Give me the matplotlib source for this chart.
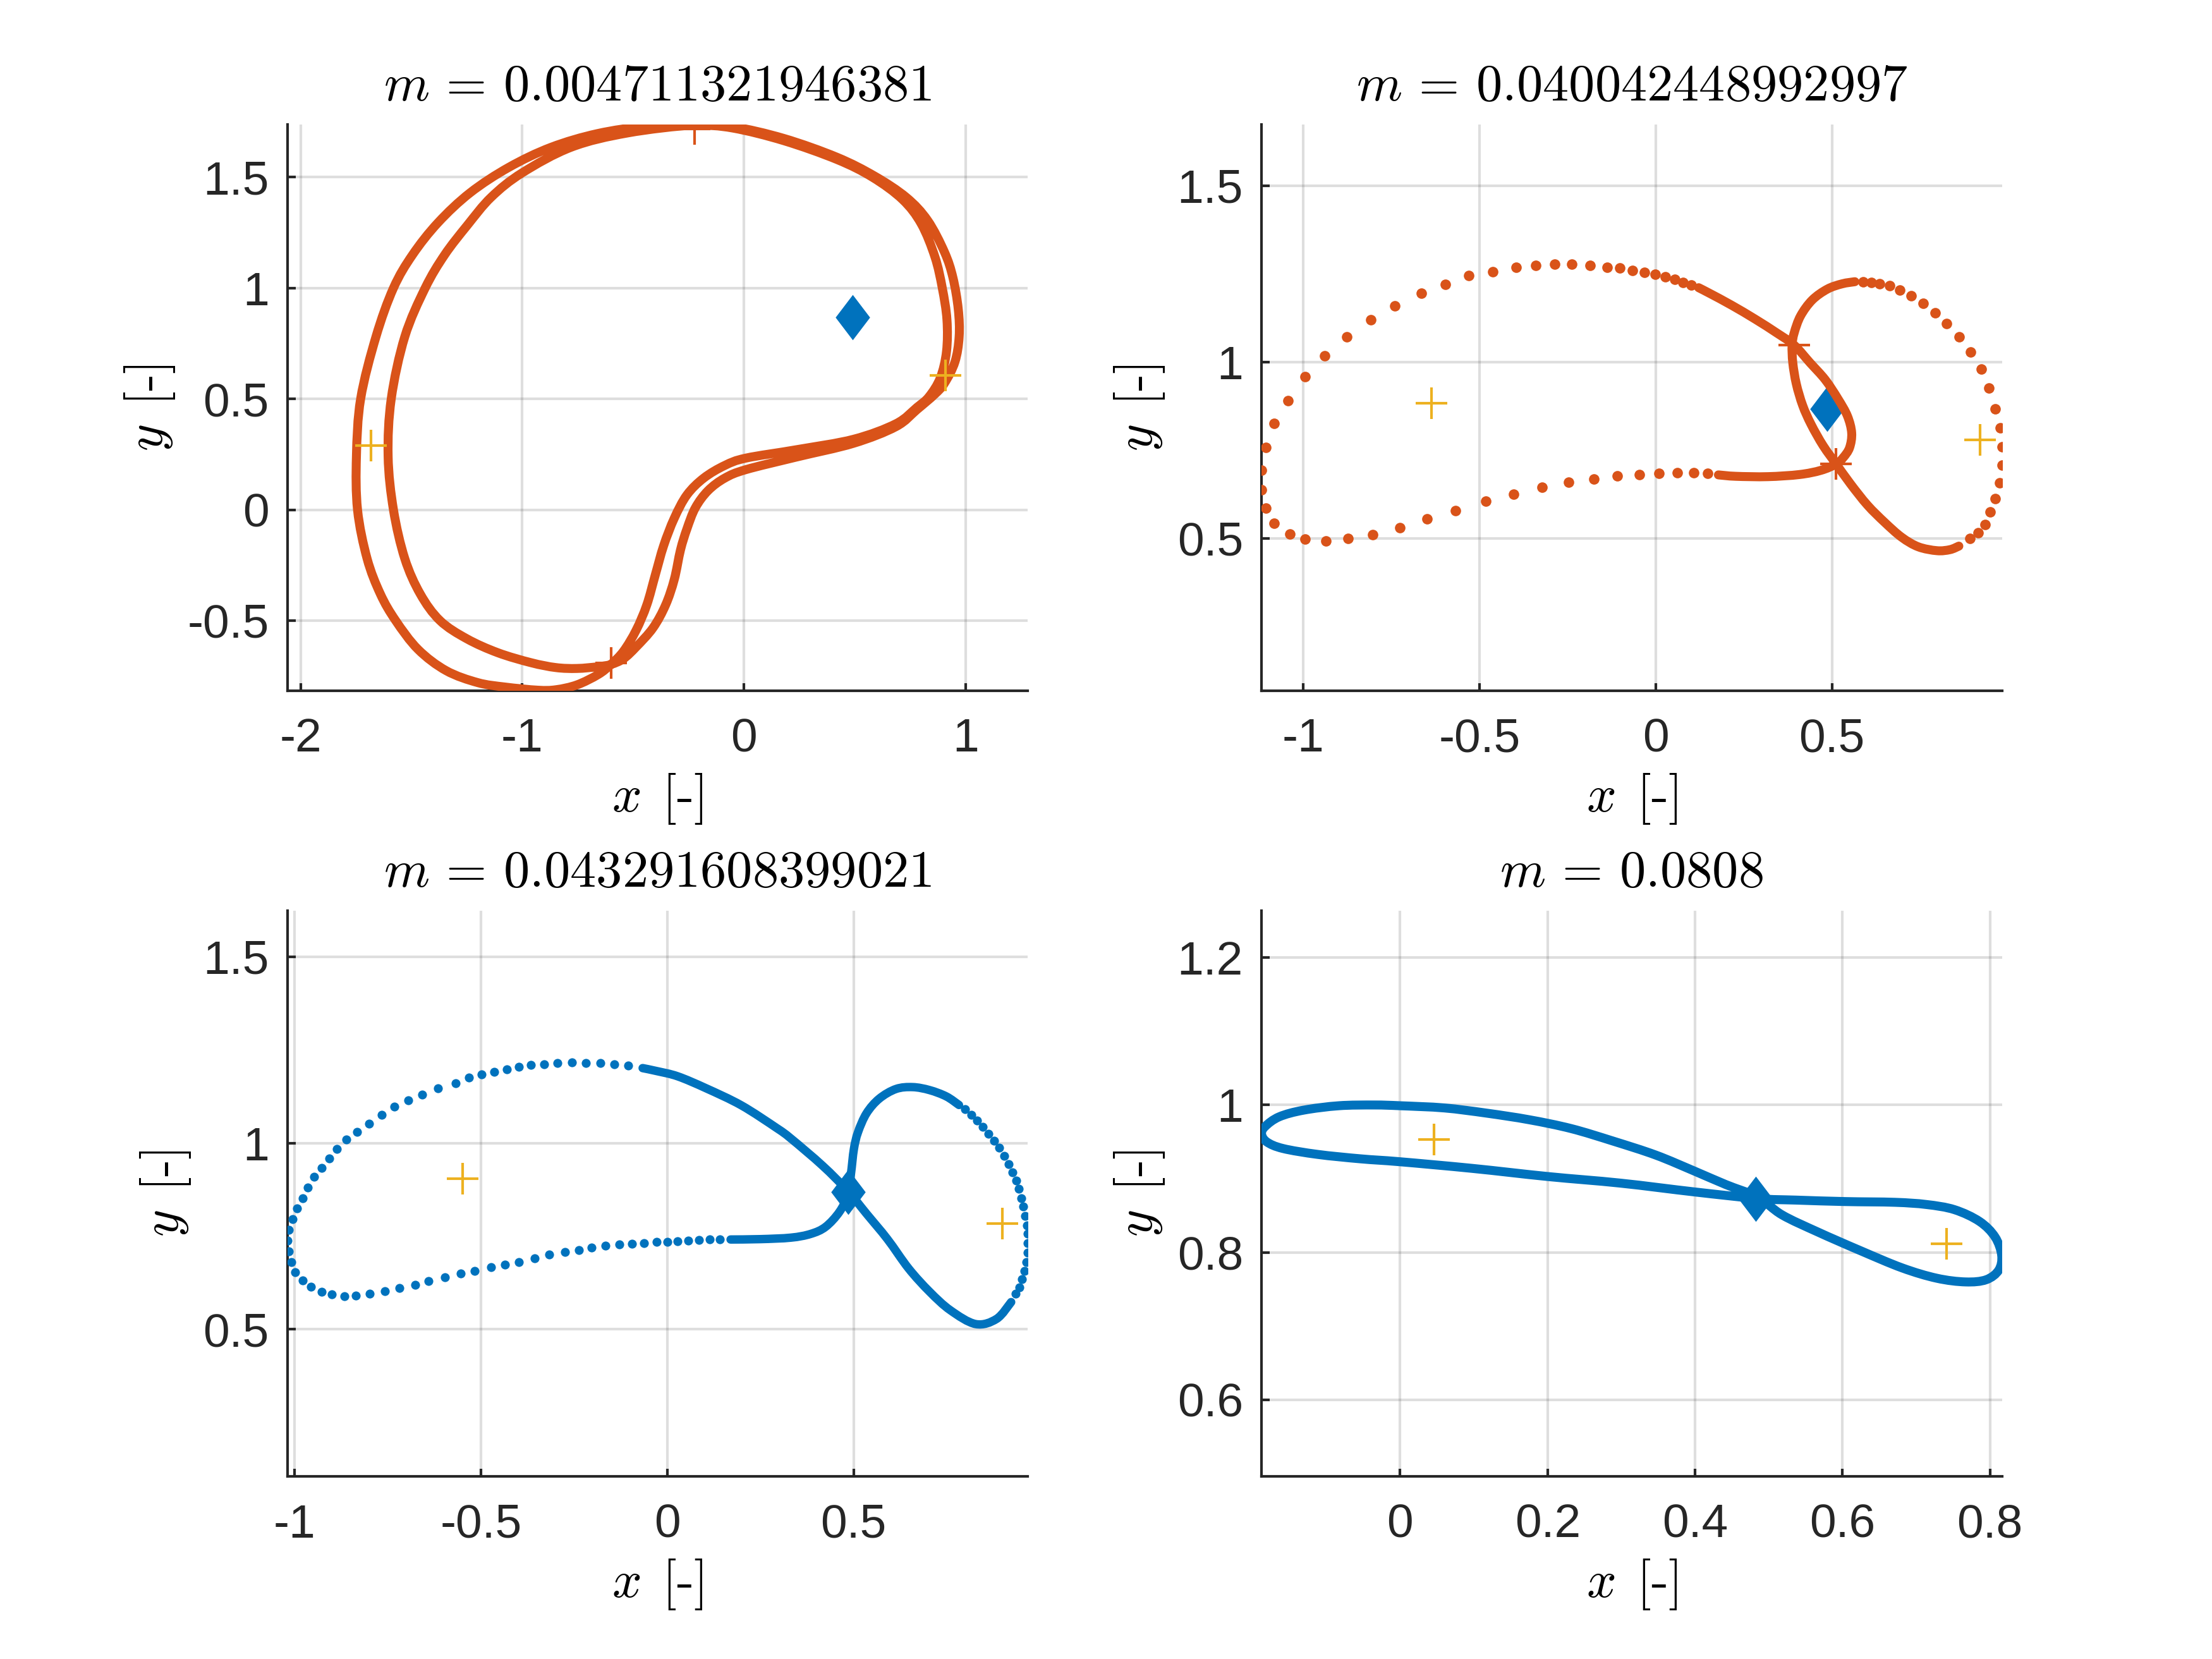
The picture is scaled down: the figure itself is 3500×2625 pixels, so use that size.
import numpy as np
import matplotlib
matplotlib.use("Agg")
import matplotlib.pyplot as plt
from matplotlib.path import Path
from matplotlib.patches import PathPatch
from matplotlib.ticker import MultipleLocator, FuncFormatter

nan = np.nan

ORANGE = "#D95319"
BLUE = "#0072BD"
YELLOW = "#EDB120"
AXCOL = "#262626"

titles = [r"$m\,=\,0.004711321946381$", r"$m\,=\,0.040042448992997$",
          r"$m\,=\,0.043291608399021$", r"$m\,=\,0.0808$"]

# ---- panel 1: two revolutions, drawn as continuous lines (NaN separates them)
p1_line_x = [-0.222, -0.440, -0.660, -0.870, -1.060, -1.235, -1.380, -1.495, -1.581, -1.660,
             -1.729, -1.748, -1.743, -1.700, -1.640, -1.571, -1.470, -1.343, -1.200, -1.076,
             -0.930, -0.848, -0.753, -0.657, -0.600, -0.543, -0.486, -0.438, -0.400, -0.362,
             -0.314, -0.257, -0.181, -0.086, 0.009, 0.238, 0.495, 0.686, 0.781, 0.835,
             0.886, 0.914, 0.916, 0.895, 0.862, 0.800, 0.715, 0.580, 0.420, 0.180,
             -0.050, -0.222, nan,
             -0.222, -0.524, -0.778, -1.000, -1.140, -1.248, -1.350, -1.438, -1.530, -1.591,
             -1.605, -1.581, -1.530, -1.460, -1.371, -1.250, -1.110, -0.960, -0.848, -0.753,
             -0.657, -0.600, -0.543, -0.486, -0.410, -0.353, -0.314, -0.286, -0.257, -0.219,
             -0.162, -0.086, 0.009, 0.238, 0.495, 0.686, 0.781, 0.860, 0.905, 0.952,
             0.971, 0.967, 0.943, 0.905, 0.829, 0.733, 0.590, 0.420, 0.180, -0.050, -0.222]
p1_line_y = [1.736, 1.730, 1.697, 1.635, 1.545, 1.430, 1.295, 1.150, 1.000, 0.780,
             0.500, 0.241, 0.000, -0.220, -0.380, -0.500, -0.630, -0.726, -0.780, -0.800,
             -0.814, -0.812, -0.790, -0.743, -0.698, -0.638, -0.543, -0.429, -0.295, -0.162,
             -0.038, 0.067, 0.143, 0.200, 0.233, 0.271, 0.318, 0.388, 0.462, 0.510,
             0.595, 0.714, 0.857, 1.000, 1.140, 1.290, 1.400, 1.500, 1.580, 1.665,
             1.722, 1.736, nan,
             1.736, 1.700, 1.636, 1.520, 1.410, 1.283, 1.150, 1.000, 0.780, 0.500,
             0.241, 0.000, -0.220, -0.380, -0.500, -0.582, -0.645, -0.690, -0.712, -0.716,
             -0.708, -0.698, -0.672, -0.619, -0.533, -0.429, -0.314, -0.181, -0.086, 0.009,
             0.086, 0.143, 0.181, 0.238, 0.300, 0.375, 0.452, 0.520, 0.571, 0.667,
             0.781, 0.905, 1.047, 1.162, 1.305, 1.409, 1.505, 1.590, 1.675, 1.728, 1.736]
p1_dots_x = []
p1_dots_y = []
p1_cross_x = [-0.222, -0.600]
p1_cross_y = [1.719, -0.690]
p1_plus_x = [-1.681, 0.909]
p1_plus_y = [0.289, 0.605]
p1_diamond = (0.489, 0.868)

# ---- panel 2
p2_line_x = [0.122, 0.155, 0.216, 0.282, 0.343, 0.393, 0.438, 0.481, 0.517, 0.544,
             0.556, 0.550, 0.532, 0.512, 0.469, 0.408, 0.318, 0.227, 0.178, nan,
             0.512, 0.553, 0.601, 0.650, 0.698, 0.745, 0.798, 0.835, 0.860, nan,
             0.565, 0.529, 0.487, 0.444, 0.411, 0.393, 0.387, 0.389, 0.399, 0.417,
             0.441, 0.475, 0.512]
p2_line_y = [1.211, 1.194, 1.161, 1.122, 1.083, 1.048, 0.998, 0.950, 0.896, 0.847,
             0.799, 0.757, 0.729, 0.711, 0.693, 0.681, 0.675, 0.676, 0.680, nan,
             0.711, 0.654, 0.594, 0.545, 0.503, 0.476, 0.465, 0.468, 0.478, nan,
             1.228, 1.222, 1.207, 1.176, 1.131, 1.083, 1.048, 0.998, 0.938, 0.877,
             0.823, 0.763, 0.711]
p2_dots_x = [0.148, 0.108, 0.062, 0.010, -0.046, -0.108, -0.176, -0.246, -0.322, -0.402,
             -0.482, -0.568, -0.648, -0.726, -0.802, -0.872, -0.936, -0.994, -1.038, -1.082,
             -1.106, -1.118, -1.118, -1.106, -1.082, -1.042, -0.994, -0.938, -0.876, -0.808,
             -0.740, -0.664, -0.596, -0.530, -0.462, -0.396, -0.340, -0.286, -0.238, -0.186,
             -0.138, -0.101, -0.065, -0.032, -0.002, 0.028, 0.054, 0.078, 0.101,
             0.891, 0.915, 0.934, 0.949, 0.964, 0.976, 0.982, 0.982, 0.977, 0.964,
             0.946, 0.923, 0.894, 0.861, 0.825, 0.792, 0.758, 0.725, 0.692, 0.663,
             0.635, 0.611, 0.588]
p2_dots_y = [0.684, 0.686, 0.686, 0.684, 0.681, 0.678, 0.669, 0.660, 0.645, 0.626,
             0.606, 0.579, 0.555, 0.531, 0.510, 0.499, 0.493, 0.498, 0.513, 0.543,
             0.585, 0.638, 0.693, 0.758, 0.826, 0.890, 0.958, 1.018, 1.072, 1.120,
             1.159, 1.195, 1.221, 1.245, 1.257, 1.269, 1.275, 1.278, 1.278, 1.275,
             1.269, 1.267, 1.260, 1.255, 1.249, 1.241, 1.234, 1.226, 1.218,
             0.500, 0.515, 0.539, 0.575, 0.612, 0.657, 0.708, 0.760, 0.814, 0.868,
             0.926, 0.980, 1.028, 1.071, 1.110, 1.140, 1.167, 1.188, 1.204, 1.216,
             1.222, 1.226, 1.228]
p2_cross_x = [0.393, 0.512]
p2_cross_y = [1.048, 0.711]
p2_plus_x = [-0.636, 0.921]
p2_plus_y = [0.883, 0.779]
p2_diamond = (0.487, 0.867)

# ---- panel 3
p3_line_x = [0.170, 0.250, 0.332, 0.385, 0.425, 0.462, 0.484, 0.493, 0.501, 0.512,
             0.535, 0.569, 0.614, 0.659, 0.704, 0.749, 0.783, nan,
             0.923, 0.884, 0.828, 0.760, 0.704, 0.648, 0.591, 0.535, 0.484, 0.417,
             0.332, 0.294, 0.199, 0.104, 0.028, -0.028, -0.066]
p3_line_y = [0.741, 0.742, 0.746, 0.756, 0.775, 0.815, 0.860, 0.917, 0.984, 1.029,
             1.080, 1.119, 1.145, 1.150, 1.142, 1.125, 1.102, nan,
             0.573, 0.528, 0.514, 0.551, 0.601, 0.663, 0.742, 0.810, 0.872, 0.939,
             1.012, 1.040, 1.101, 1.147, 1.179, 1.193, 1.201]
p3_dots_x = [0.800, 0.816, 0.831, 0.846, 0.862, 0.877, 0.891, 0.904, 0.917, 0.927,
             0.936, 0.943, 0.950, 0.956, 0.961, 0.965, 0.967, 0.968, 0.967, 0.964,
             0.959, 0.952, 0.945, 0.935,
             -0.104, -0.142, -0.180, -0.218, -0.256, -0.294, -0.331, -0.366, -0.398, -0.430,
             -0.464, -0.498, -0.532, -0.568, -0.616, -0.657, -0.695, -0.733, -0.767, -0.801,
             -0.833, -0.862, -0.886, -0.907, -0.928, -0.947, -0.964, -0.979, -0.994, -1.006,
             -1.015, -1.019, -1.015, -1.009, -0.998, -0.979, -0.956, -0.928, -0.900, -0.867,
             -0.835, -0.799, -0.758, -0.718, -0.676, -0.640, -0.597, -0.555, -0.517, -0.473,
             -0.436, -0.398, -0.356, -0.316, -0.275, -0.237, -0.203, -0.165, -0.129, -0.095,
             -0.063, -0.028, 0.000, 0.028, 0.057, 0.085, 0.114, 0.142]
p3_dots_y = [1.090, 1.076, 1.060, 1.043, 1.025, 1.006, 0.987, 0.966, 0.943, 0.922,
             0.900, 0.877, 0.852, 0.829, 0.804, 0.779, 0.756, 0.731, 0.706, 0.681,
             0.656, 0.634, 0.612, 0.595,
             1.208, 1.211, 1.215, 1.215, 1.216, 1.215, 1.212, 1.209, 1.205, 1.198,
             1.191, 1.184, 1.175, 1.161, 1.147, 1.129, 1.115, 1.098, 1.075, 1.051,
             1.030, 1.009, 0.984, 0.959, 0.933, 0.909, 0.881, 0.852, 0.824, 0.795,
             0.767, 0.738, 0.710, 0.681, 0.653, 0.632, 0.615, 0.600, 0.593, 0.589,
             0.590, 0.595, 0.603, 0.610, 0.620, 0.629, 0.639, 0.649, 0.657, 0.667,
             0.674, 0.681, 0.691, 0.700, 0.707, 0.713, 0.720, 0.724, 0.727, 0.730,
             0.731, 0.734, 0.735, 0.737, 0.738, 0.740, 0.741, 0.741]
p3_cross_x = []
p3_cross_y = []
p3_plus_x = [-0.549, 0.900]
p3_plus_y = [0.905, 0.784]
p3_diamond = (0.486, 0.868)

# ---- panel 4
p4_line_x = [0.485, 0.442, 0.400, 0.347, 0.289, 0.232, 0.175, 0.117, 0.060, 0.000,
             -0.035, -0.083, -0.131, -0.164, -0.183, -0.188, -0.181, -0.159, -0.112, -0.054,
             0.000, 0.098, 0.200, 0.299, 0.400, 0.485, 0.537, 0.604, 0.671, 0.714,
             0.752, 0.786, 0.807, 0.816, 0.812, 0.795, 0.767, 0.728, 0.681, 0.623,
             0.566, 0.518, 0.485]
p4_line_y = [0.875, 0.892, 0.910, 0.932, 0.951, 0.968, 0.980, 0.989, 0.996, 0.999,
             1.000, 0.999, 0.993, 0.984, 0.971, 0.961, 0.950, 0.941, 0.933, 0.927,
             0.923, 0.914, 0.903, 0.894, 0.882, 0.873, 0.871, 0.869, 0.868, 0.865,
             0.858, 0.842, 0.821, 0.796, 0.776, 0.763, 0.760, 0.765, 0.779, 0.803,
             0.828, 0.851, 0.875]
p4_dots_x = []
p4_dots_y = []
p4_cross_x = []
p4_cross_y = []
p4_plus_x = [0.046, 0.741]
p4_plus_y = [0.953, 0.812]
p4_diamond = (0.482, 0.873)

panels = [
    (p1_line_x, p1_line_y, p1_dots_x, p1_dots_y, p1_cross_x, p1_cross_y, p1_plus_x, p1_plus_y, p1_diamond, ORANGE, 1.0, 0.5, 1.7, 1.8),
    (p2_line_x, p2_line_y, p2_dots_x, p2_dots_y, p2_cross_x, p2_cross_y, p2_plus_x, p2_plus_y, p2_diamond, ORANGE, 0.5, 0.5, 1.7, 2.0),
    (p3_line_x, p3_line_y, p3_dots_x, p3_dots_y, p3_cross_x, p3_cross_y, p3_plus_x, p3_plus_y, p3_diamond, BLUE, 0.5, 0.5, 1.6, 1.7),
    (p4_line_x, p4_line_y, p4_dots_x, p4_dots_y, p4_cross_x, p4_cross_y, p4_plus_x, p4_plus_y, p4_diamond, BLUE, 0.2, 0.2, 1.7, 1.7),
]

positions = [[0.13, 0.5838, 0.3347, 0.3412], [0.5703, 0.5838, 0.3347, 0.3412],
             [0.13, 0.11, 0.3347, 0.3412], [0.5703, 0.11, 0.3347, 0.3412]]


def smooth_path(xs, ys):
    # draw the read points as a smooth curve (Catmull-Rom as cubic Bezier pieces)
    pts = np.column_stack([xs, ys]).astype(float)
    breaks = np.where(np.isnan(pts[:, 0]))[0]
    verts, codes = [], []
    for seg in np.split(pts, breaks):
        seg = seg[~np.isnan(seg[:, 0])]
        if len(seg) < 2:
            continue
        closed = len(seg) > 3 and np.allclose(seg[0], seg[-1])
        if closed:
            P = seg[:-1]
            n = len(P)
            get = lambda k: P[k % n]
            count = n
        else:
            n = len(seg)
            get = lambda k: seg[min(max(k, 0), n - 1)]
            count = n - 1
        verts.append(get(0))
        codes.append(Path.MOVETO)
        for k in range(count):
            p0, p1, p2, p3 = get(k - 1), get(k), get(k + 1), get(k + 2)
            verts += [p1 + (p2 - p0) / 6.0, p2 - (p3 - p1) / 6.0, p2]
            codes += [Path.CURVE4] * 3
    return Path(np.array(verts), codes)


plt.rcParams["mathtext.fontset"] = "cm"
plt.rcParams["font.family"] = ["Liberation Sans", "DejaVu Sans"]
plt.rcParams["axes.unicode_minus"] = False

diamond = Path([(0, 1), (0.76, 0), (0, -1), (-0.76, 0), (0, 1)],
               [Path.MOVETO, Path.LINETO, Path.LINETO, Path.LINETO, Path.CLOSEPOLY])

fig = plt.figure(figsize=(3500 / 600, 2625 / 600), dpi=600)

for i, (lx, ly, dx, dy, cx, cy, px, py, dia, col, xs, ys, lw, ds) in enumerate(panels):
    ax = fig.add_axes(positions[i])
    ax.plot(dia[0], dia[1], marker=diamond, ms=8.6, color=BLUE, mew=0, ls="none", zorder=2)
    ax.plot(lx, ly, ls="none")
    ax.add_patch(PathPatch(smooth_path(lx, ly), fill=False, ec=col, lw=lw,
                           capstyle="round", joinstyle="round", zorder=3))
    if dx:
        ax.plot(dx, dy, "o", color=col, ms=ds, mew=0, zorder=3)
    if cx:
        ax.plot(cx, cy, "+", color=col, ms=6, mew=0.5, zorder=4)
    ax.plot(px, py, "+", color=YELLOW, ms=6, mew=0.5, zorder=4)

    ax.margins(0)
    ax.set_aspect("equal", adjustable="datalim")
    ax.xaxis.set_major_locator(MultipleLocator(xs))
    ax.yaxis.set_major_locator(MultipleLocator(ys))
    fmt = FuncFormatter(lambda v, p: "%g" % round(v, 6))
    ax.xaxis.set_major_formatter(fmt)
    ax.yaxis.set_major_formatter(fmt)
    ax.set_axisbelow(True)
    ax.grid(True, color=AXCOL, alpha=0.15, lw=0.5)
    for s in ["top", "right"]:
        ax.spines[s].set_visible(False)
    for s in ["left", "bottom"]:
        ax.spines[s].set_color(AXCOL)
        ax.spines[s].set_linewidth(0.5)
    ax.tick_params(direction="in", length=1.5, width=0.5, colors=AXCOL, labelsize=9)
    ax.tick_params(axis="x", pad=5.1)
    ax.tick_params(axis="y", pad=3.5)
    ax.set_title(titles[i], fontsize=9.9, pad=4.5)
    ax.set_xlabel(r"$x\;\,$[-]", fontsize=9.9, family="cmr10", labelpad=2)
    ax.set_ylabel(r"$y\;\,$[-]", fontsize=9.9, family="cmr10", labelpad=2)

fig.savefig("out.png", dpi=600)
